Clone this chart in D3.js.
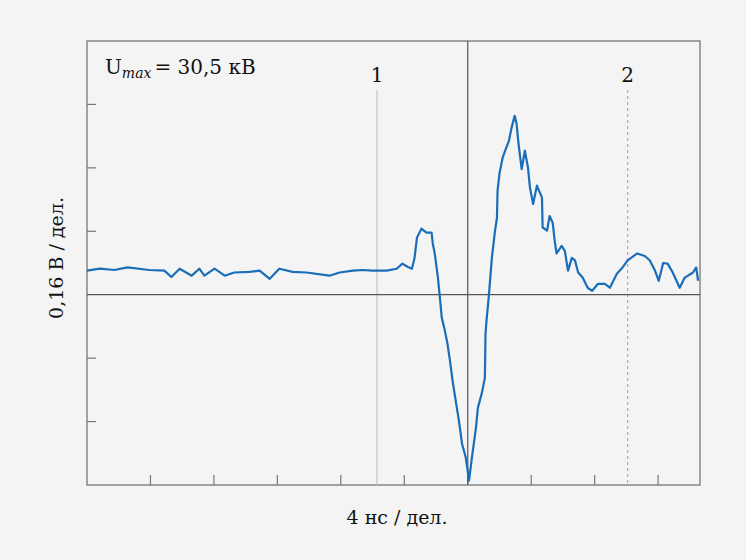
<!DOCTYPE html>
<html lang="ru">
<head>
<meta charset="utf-8">
<script src="https://d3js.org/d3.v7.min.js"></script>
<style>
  html, body { margin: 0; padding: 0; background: #f4f4f4; }
  text { font-family: "DejaVu Serif", "Liberation Serif", serif; fill: #111; }
</style>
</head>
<body>
<div id="chart"></div>
<script>
// trace, in divisions (x: 4 ns/div, y: 0.16 V/div)
const timeDiv = [-6.0, -5.8, -5.57, -5.36, -5.02, -4.78, -4.67, -4.54, -4.35, -4.23, -4.15, -3.99, -3.83, -3.68,
  -3.44, -3.28, -3.12, -2.97, -2.76, -2.54, -2.18, -2.02, -1.81, -1.66, -1.5, -1.28, -1.12, -1.03, -0.95,
  -0.88, -0.84, -0.8, -0.73, -0.65, -0.57, -0.55, -0.52,
  -0.47, -0.43, -0.41, -0.36, -0.32, -0.28, -0.24, -0.19, -0.14, -0.09, -0.03, 0.02, 0.06, 0.13, 0.16,
  0.22, 0.27, 0.28, 0.3, 0.33, 0.38, 0.43, 0.46, 0.47, 0.5, 0.55, 0.6, 0.65, 0.69, 0.74, 0.77, 0.8,
  0.85, 0.9, 0.95, 0.98, 1.03, 1.09, 1.17, 1.18, 1.25, 1.29, 1.34, 1.37, 1.4, 1.48, 1.53, 1.58, 1.64,
  1.69, 1.74, 1.81, 1.89, 1.96, 2.05, 2.16, 2.24, 2.35, 2.44, 2.52, 2.67, 2.79, 2.87, 2.95, 3.01, 3.08,
  3.15, 3.23, 3.34, 3.42, 3.55, 3.6, 3.63];
const voltDiv = [0.38, 0.41, 0.39, 0.43, 0.39, 0.38, 0.28, 0.41, 0.3, 0.41, 0.3, 0.41, 0.3, 0.35,
  0.36, 0.38, 0.25, 0.41, 0.36, 0.35, 0.3, 0.35, 0.38, 0.39, 0.38, 0.38, 0.41, 0.49, 0.44,
  0.41, 0.57, 0.9, 1.04, 0.98, 0.98, 0.8, 0.65,
  0.27, -0.14, -0.36, -0.57, -0.77, -1.04, -1.35, -1.67, -1.98, -2.35, -2.57, -2.93, -2.61, -2.09, -1.78,
  -1.56, -1.31, -0.61, -0.36, -0.05, 0.58, 1.01, 1.21, 1.64, 1.91, 2.16, 2.3, 2.43, 2.63, 2.82, 2.69, 2.38,
  1.98, 2.27, 2.0, 1.69, 1.43, 1.72, 1.53, 1.06, 1.01, 1.24, 1.13, 0.85, 0.65, 0.77, 0.69, 0.38, 0.58,
  0.54, 0.35, 0.27, 0.11, 0.06, 0.17, 0.17, 0.11, 0.33, 0.43, 0.54, 0.65, 0.61, 0.54, 0.38, 0.22, 0.5,
  0.49, 0.35, 0.11, 0.27, 0.35, 0.43, 0.22];
const xTicks = [-5, -4, -3, -2, -1, 0, 1, 2, 3];
const yTicks = [-2, -1, 1, 2, 3];
const markers = [{ label: "1", t: -1.43, dashed: false }, { label: "2", t: 2.52, dashed: true }];

const W = 746, H = 560;
const plot = { left: 87, right: 700, top: 41, bottom: 485 };

const svg = d3.select("#chart").append("svg")
  .attr("width", W).attr("height", H);

svg.append("rect").attr("width", W).attr("height", H).attr("fill", "#f4f4f4");

const x = d3.scaleLinear().domain([-6, 3.66]).range([plot.left, plot.right]);
const y = d3.scaleLinear().domain([-3, 4]).range([plot.bottom, plot.top]);

// frame
svg.append("rect")
  .attr("x", plot.left).attr("y", plot.top)
  .attr("width", plot.right - plot.left).attr("height", plot.bottom - plot.top)
  .attr("fill", "none").attr("stroke", "#777").attr("stroke-width", 1.3);

// tick marks
svg.append("g").selectAll("line").data(xTicks).join("line")
  .attr("x1", d => x(d)).attr("x2", d => x(d))
  .attr("y1", plot.bottom).attr("y2", plot.bottom - 10)
  .attr("stroke", "#777").attr("stroke-width", 1.2);
svg.append("g").selectAll("line").data(yTicks).join("line")
  .attr("x1", plot.left).attr("x2", plot.left + 9)
  .attr("y1", d => y(d)).attr("y2", d => y(d))
  .attr("stroke", "#777").attr("stroke-width", 1.2);

// marker lines
markers.forEach(m => {
  svg.append("line")
    .attr("x1", x(m.t)).attr("x2", x(m.t))
    .attr("y1", 90).attr("y2", plot.bottom)
    .attr("stroke", m.dashed ? "#aaa" : "#c4c4c4")
    .attr("stroke-width", 1.2)
    .attr("stroke-dasharray", m.dashed ? "3,3" : null);
  svg.append("text")
    .attr("x", x(m.t)).attr("y", 82)
    .attr("text-anchor", "middle")
    .style("font-size", "20px")
    .text(m.label);
});

// centre axes
svg.append("line")
  .attr("x1", plot.left).attr("x2", plot.right)
  .attr("y1", y(0)).attr("y2", y(0))
  .attr("stroke", "#555").attr("stroke-width", 1.2);
svg.append("line")
  .attr("x1", x(0)).attr("x2", x(0))
  .attr("y1", plot.top).attr("y2", plot.bottom)
  .attr("stroke", "#555").attr("stroke-width", 1.2);

// signal
const pts = timeDiv.map((t, i) => [t, voltDiv[i]]);
svg.append("path")
  .datum(pts)
  .attr("fill", "none")
  .attr("stroke", "#1a6db8")
  .attr("stroke-width", 2.2)
  .attr("stroke-linejoin", "round")
  .attr("d", d3.line().x(d => x(d[0])).y(d => y(d[1])));

// labels
const u = svg.append("text")
  .attr("x", 105).attr("y", 74)
  .style("font-size", "20px");
u.append("tspan").text("U");
u.append("tspan").attr("dy", 4).style("font-size", "14px").style("font-style", "italic").text("max");
u.append("tspan").attr("dy", -4).attr("dx", 3).text("= 30,5 кВ");

svg.append("text")
  .attr("x", 397).attr("y", 524)
  .attr("text-anchor", "middle")
  .style("font-size", "19px")
  .text("4 нс / дел.");

svg.append("text")
  .attr("transform", "translate(63,258) rotate(-90)")
  .attr("text-anchor", "middle")
  .style("font-size", "19px")
  .text("0,16 В / дел.");
</script>
</body>
</html>
